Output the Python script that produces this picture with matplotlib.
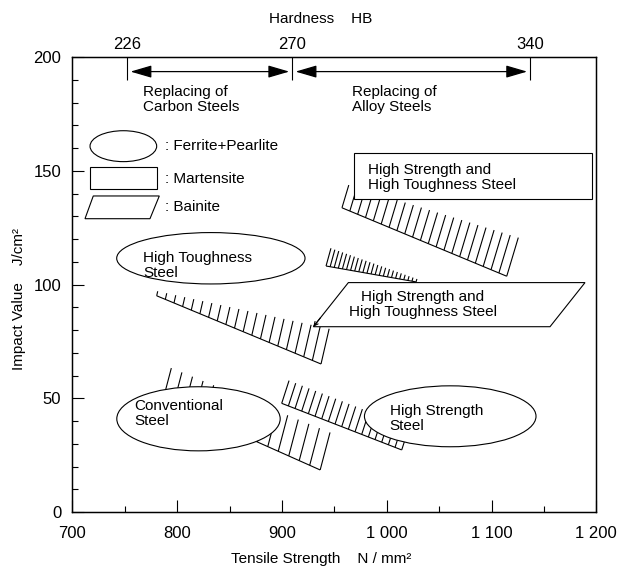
import numpy as np
import matplotlib
matplotlib.use("Agg")
import matplotlib.pyplot as plt
from matplotlib.patches import Ellipse, Rectangle, Polygon
from matplotlib.collections import LineCollection

plt.rcParams['font.family'] = ['Liberation Sans', 'DejaVu Sans']

# hardness HB -> tensile strength position on the top axis
hb_vals = [226, 270, 340]
hb_pos = [752.5, 910, 1137]
arrow_y = 193.7

x_ticks = [700, 800, 900, 1000, 1100, 1200]
x_labels = ['700', '800', '900', '1 000', '1 100', '1 200']
y_ticks = [0, 50, 100, 150, 200]

# ellipses (ferrite+pearlite): center x, center y, width, height
ell_legend = (748.7, 160.9, 63.6, 13.6)
ell_tough = (832.2, 111.6, 179.7, 22.6)
ell_conv = (820.4, 41.0, 155.9, 28.2)
ell_strength = (1060.6, 42.1, 163.7, 26.8)

# rectangles (martensite): x0, y0, x1, y1
rect_legend = (717.0, 141.9, 780.6, 151.9)
rect_hs = (968.8, 137.7, 1195.6, 157.8)

# parallelograms (bainite): corners BL, BR, TR, TL
para_legend = [(712.1, 129.0), (774.1, 129.0), (783.0, 139.0), (720.0, 139.0)]
para_hs = [(930.0, 81.5), (1155.8, 81.5), (1189.2, 100.9), (963.4, 100.9)]

# hatched bands: base start, base end, number of hatches, hatch height start/end, lean
bands = [
    ((780.5, 95.1), (937.3, 65.1), 20, 2.0, 15.5, 0.5),    # high toughness (F+P)
    ((957.3, 133.8), (1114.5, 103.7), 22, 10.0, 17.0, 0.65),  # martensite
    ((942.1, 108.2), (1028.0, 101.2), 23, 7.8, 1.3, 0.6),   # bainite
    ((786.5, 49.3), (936.5, 18.5), 16, 14.0, 16.5, 0.57),   # conventional
    ((899.8, 47.8), (1014.3, 27.3), 19, 10.0, 10.0, 0.7),   # high strength
]

fig = plt.figure(figsize=(6.17, 5.71), dpi=100)
ax = fig.add_axes([0.1172, 0.1033, 0.8493, 0.7964])
ax.set_xlim(700, 1200)
ax.set_ylim(0, 200)

lc = 'black'
for (x0, y0), (x1, y1), n, h0, h1, lean in bands:
    xs = np.linspace(x0, x1, n)
    ys = np.linspace(y0, y1, n)
    hs = np.linspace(h0, h1, n)
    segs = [[(x0, y0), (x1, y1)]]
    segs += [[(x, y), (x + lean * h, y + h)] for x, y, h in zip(xs, ys, hs)]
    ax.add_collection(LineCollection(segs, colors=lc, linewidths=0.8, zorder=2))

for cx, cy, w, h in [ell_legend, ell_tough, ell_conv, ell_strength]:
    ax.add_patch(Ellipse((cx, cy), w, h, facecolor='white', edgecolor=lc, lw=0.8, zorder=3))
for x0, y0, x1, y1 in [rect_legend, rect_hs]:
    ax.add_patch(Rectangle((x0, y0), x1 - x0, y1 - y0, facecolor='white', edgecolor=lc, lw=0.8, zorder=3))
for pts in [para_legend, para_hs]:
    ax.add_patch(Polygon(pts, closed=True, facecolor='white', edgecolor=lc, lw=0.8, zorder=3))

# small pointer at the bainite box corner
bl, tl = np.array(para_hs[0]), np.array(para_hs[3])
ax.annotate('', xy=tuple(bl), xytext=tuple(bl + 0.2 * (tl - bl)),
            arrowprops=dict(arrowstyle='->', lw=0.8, mutation_scale=7, shrinkA=0, shrinkB=0), zorder=4)

fs = 11
ls = 1.1
ax.text(788.5, 161, ': Ferrite+Pearlite', fontsize=fs, va='center', zorder=4)
ax.text(788.5, 146.3, ': Martensite', fontsize=fs, va='center', zorder=4)
ax.text(788.5, 134.3, ': Bainite', fontsize=fs, va='center', zorder=4)

ax.text(767.7, 108.5, 'High Toughness\nSteel', fontsize=fs, va='center', linespacing=ls, zorder=4)
ax.text(758.8, 43.2, 'Conventional\nSteel', fontsize=fs, va='center', linespacing=ls, zorder=4)
ax.text(1002.9, 41.3, 'High Strength\nSteel', fontsize=fs, va='center', linespacing=ls, zorder=4)
ax.text(982.5, 147.2, 'High Strength and\nHigh Toughness Steel', fontsize=fs, va='center', linespacing=ls, zorder=4)
ax.text(1034.3, 91.2, 'High Strength and\nHigh Toughness Steel', fontsize=fs, va='center', ha='center',
        multialignment='center', linespacing=ls, zorder=4)

ax.text(767, 181.6, 'Replacing of\nCarbon Steels', fontsize=fs, va='center', linespacing=ls)
ax.text(967, 181.6, 'Replacing of\nAlloy Steels', fontsize=fs, va='center', linespacing=ls)

# hardness range arrows
gap = 3
for a, b in zip(hb_pos[:-1], hb_pos[1:]):
    ax.annotate('', xy=(a + gap, arrow_y), xytext=(b - gap, arrow_y),
                arrowprops=dict(arrowstyle='<|-|>,head_length=1.3,head_width=0.38', mutation_scale=10,
                                lw=0.9, color=lc, shrinkA=0, shrinkB=0))

ax.set_xticks(x_ticks)
ax.set_xticklabels(x_labels)
ax.set_xticks([750, 850, 950, 1050, 1150], minor=True)
ax.set_yticks(y_ticks)
ax.set_yticks(np.arange(0, 201, 10), minor=True)
ax.tick_params(which='major', direction='in', length=8.5, width=0.8, labelsize=12)
ax.tick_params(which='minor', direction='in', length=4.5, width=0.8)
ax.tick_params(axis='x', pad=10)
ax.tick_params(axis='y', pad=8)
for s in ax.spines.values():
    s.set_linewidth(1.0)

ax.set_xlabel('Tensile Strength    N / mm\u00b2', fontsize=fs)
ax.xaxis.set_label_coords(0.474, -0.088)
ax.set_ylabel('Impact Value    J/cm\u00b2', fontsize=fs)
ax.yaxis.set_label_coords(-0.088, 0.468)

ax2 = ax.twiny()
ax2.set_xlim(ax.get_xlim())
ax2.set_xticks(hb_pos)
ax2.set_xticklabels([str(v) for v in hb_vals])
ax2.tick_params(direction='in', length=16.5, width=0.8, pad=4, labelsize=12)
ax2.set_xlabel('Hardness    HB', fontsize=fs)
ax2.xaxis.set_label_coords(0.473, 1.076)

fig.savefig('out.png', dpi=100)
